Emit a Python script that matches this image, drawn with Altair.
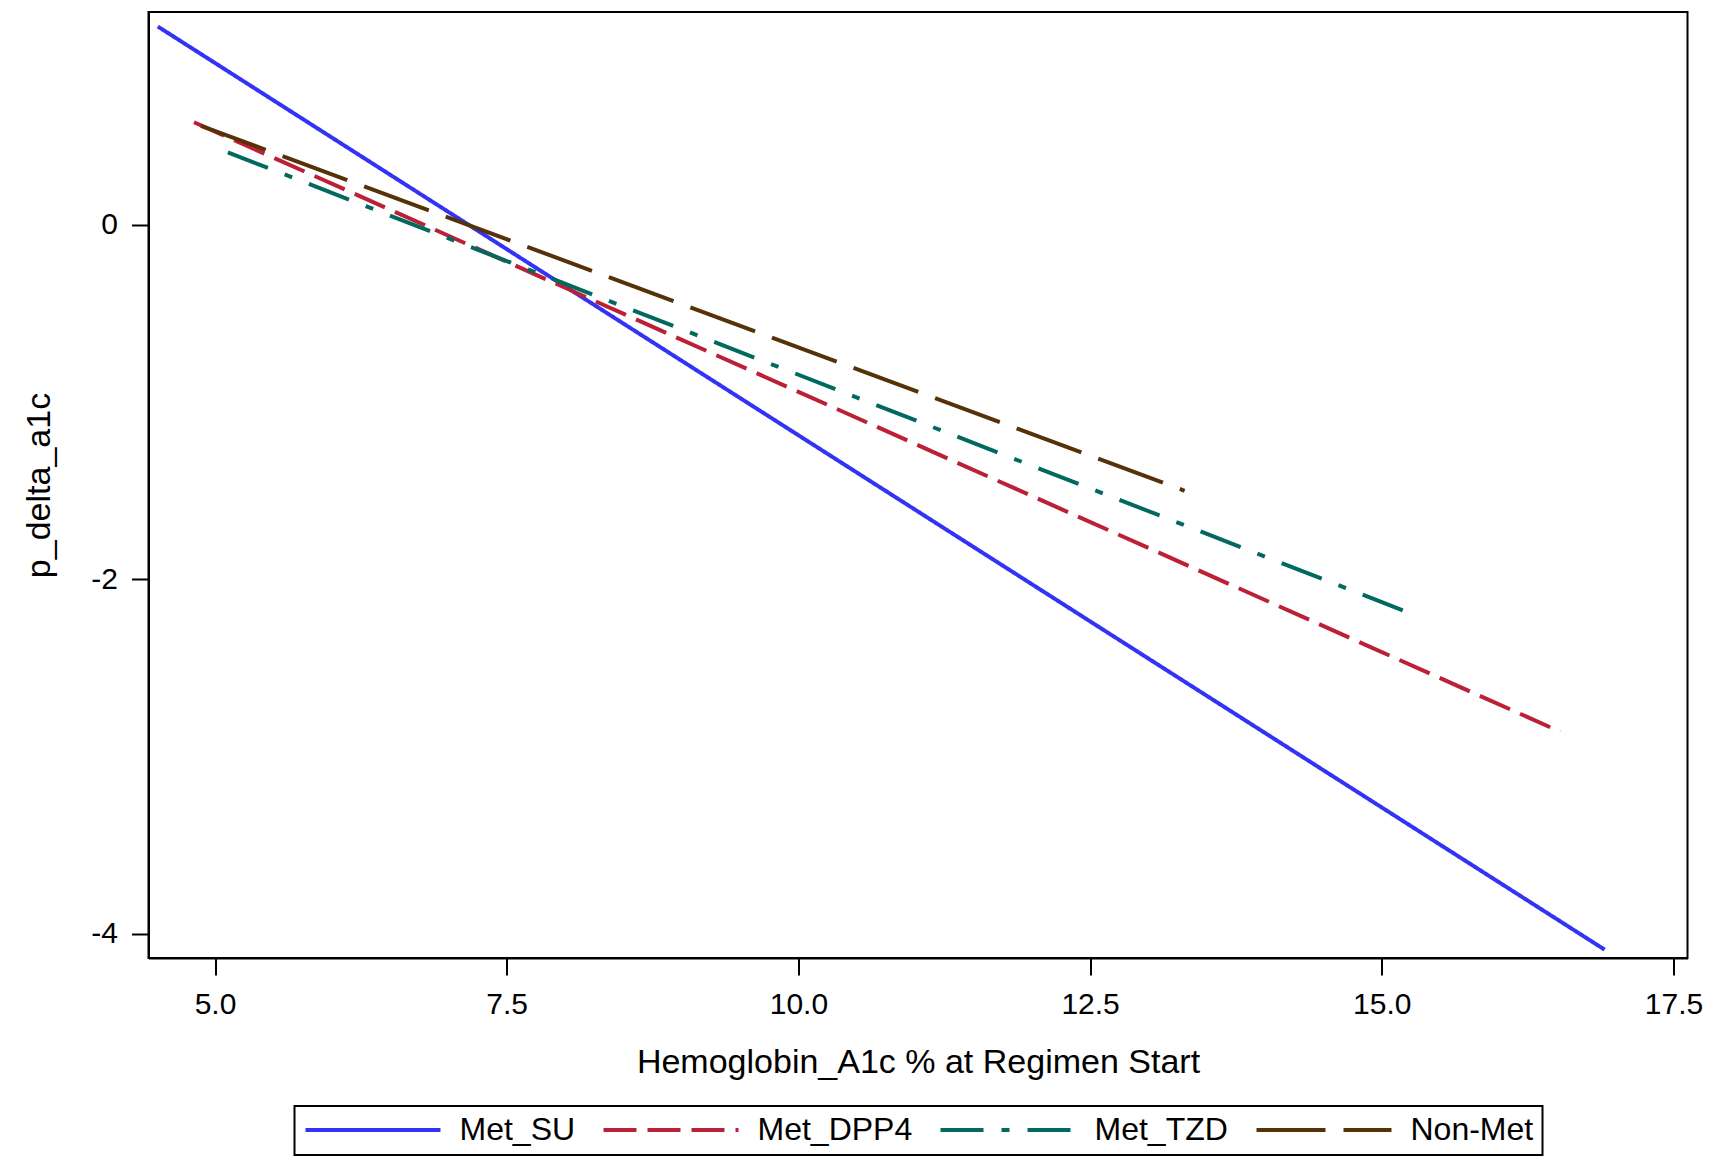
import altair as alt
import pandas as pd

# ---- data ----
groups = ["Met_SU", "Met_DPP4", "Met_TZD", "Non-Met"]
x_start = [4.51, 4.82, 5.11, 4.88]
x_end = [16.91, 16.53, 15.24, 13.31]
y_start = [1.12, 0.58, 0.41, 0.56]
y_end = [-4.09, -2.86, -2.19, -1.50]

x_ticks = [5.0, 7.5, 10.0, 12.5, 15.0, 17.5]
y_ticks = [-4, -2, 0]

colors = ["#3333F5", "#BC2036", "#02695F", "#573209"]
dashes = [[1, 0], [33, 11], [43, 18, 8, 18], [69, 18]]

rows = []
for g, xs, xe, ys, ye in zip(groups, x_start, x_end, y_start, y_end):
    rows.append({"group": g, "x": xs, "y": ys, "o": 0})
    rows.append({"group": g, "x": xe, "y": ye, "o": 1})
df = pd.DataFrame(rows)

FONT = "Liberation Sans"

legend = alt.Legend(
    title=None,
    orient="none",
    legendX=146,
    legendY=1094,
    direction="horizontal",
    columns=4,
    symbolType="stroke",
    symbolSize=18225,
    symbolStrokeWidth=4,
    clipHeight=30,
    labelFontSize=32,
    labelFont=FONT,
    labelColor="black",
    labelOffset=17,
    columnPadding=26,
    padding=9,
    strokeColor="black",
)

chart = (
    alt.Chart(df)
    .mark_line(strokeWidth=4, strokeCap="butt")
    .encode(
        x=alt.X(
            "x:Q",
            title="Hemoglobin_A1c % at Regimen Start",
            scale=alt.Scale(domain=[4.43, 17.62], nice=False, zero=False),
            axis=alt.Axis(values=x_ticks, format=".1f", titlePadding=26, labelPadding=14),
        ),
        y=alt.Y(
            "y:Q",
            title="p_delta_a1c",
            scale=alt.Scale(domain=[-4.137, 1.202], nice=False, zero=False),
            axis=alt.Axis(values=y_ticks, labelExpr="'' + datum.value", titlePadding=34, labelPadding=14),
        ),
        color=alt.Color("group:N", scale=alt.Scale(domain=groups, range=colors), legend=legend),
        strokeDash=alt.StrokeDash("group:N", scale=alt.Scale(domain=groups, range=dashes), legend=legend),
        order="o:Q",
        detail="group:N",
    )
    .properties(
        width=1539,
        height=946,
        autosize=alt.AutoSizeParams(type="none"),
        padding={"left": 140.5, "top": 4, "right": 15, "bottom": 204},
    )
    .configure_view(stroke="black", strokeWidth=2)
    .configure_axis(
        domainColor="black",
        domainWidth=2,
        tickColor="black",
        tickWidth=2,
        tickSize=17,
        grid=False,
        labelFont=FONT,
        labelFontSize=30,
        labelColor="black",
        titleFont=FONT,
        titleFontSize=34,
        titleFontWeight="normal",
        titleColor="black",
    )
    .configure_legend(strokeWidth=2)
)

chart.save("out.html", embed_options={"renderer": "svg", "actions": False})
